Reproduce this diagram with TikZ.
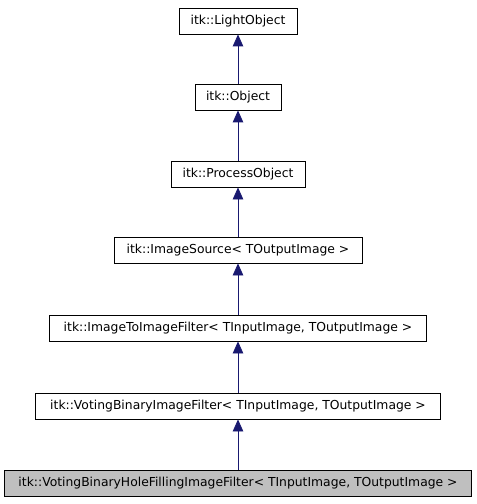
\documentclass[tikz,border=0pt]{standalone}
\usepackage{fontspec}
\setmainfont{DejaVu Sans}
\usetikzlibrary{arrows.meta}
\definecolor{edgeblue}{RGB}{25,25,112}
\definecolor{curgray}{RGB}{191,191,191}

\begin{document}
\begin{tikzpicture}[x=1bp,y=-1bp,
    cls/.style={draw, line width=0.8bp, minimum height=26bp, inner sep=0pt,
        font=\fontsize{12.4}{14}\selectfont},
    inh/.style={draw=edgeblue, line width=0.8bp,
        -{Triangle[length=12bp,width=10.5bp,fill=edgeblue]}}]
        \useasboundingbox (0,0) rectangle (477,504);
        \node[cls, minimum width=118bp] (light) at (238,21) {itk::LightObject};
        \node[cls, minimum width=86bp] (obj) at (238,97) {itk::Object};
        \node[cls, minimum width=134bp] (proc) at (238,174) {itk::ProcessObject};
        \node[cls, minimum width=248bp] (src) at (238,250) {itk::ImageSource< TOutputImage >};
        \node[cls, minimum width=377bp] (i2i) at (238,328) {itk::ImageToImageFilter< TInputImage, TOutputImage >};
        \node[cls, minimum width=405bp] (vote) at (238,406) {itk::VotingBinaryImageFilter< TInputImage, TOutputImage >};
        \node[cls, fill=curgray, minimum width=467bp] (hole) at (238,483) {itk::VotingBinaryHoleFillingImageFilter< TInputImage, TOutputImage >};
        \draw[inh] (obj) -- (light);
        \draw[inh] (proc) -- (obj);
        \draw[inh] (src) -- (proc);
        \draw[inh] (i2i) -- (src);
        \draw[inh] (vote) -- (i2i);
        \draw[inh] (hole) -- (vote);
    \end{tikzpicture}
\end{document}
